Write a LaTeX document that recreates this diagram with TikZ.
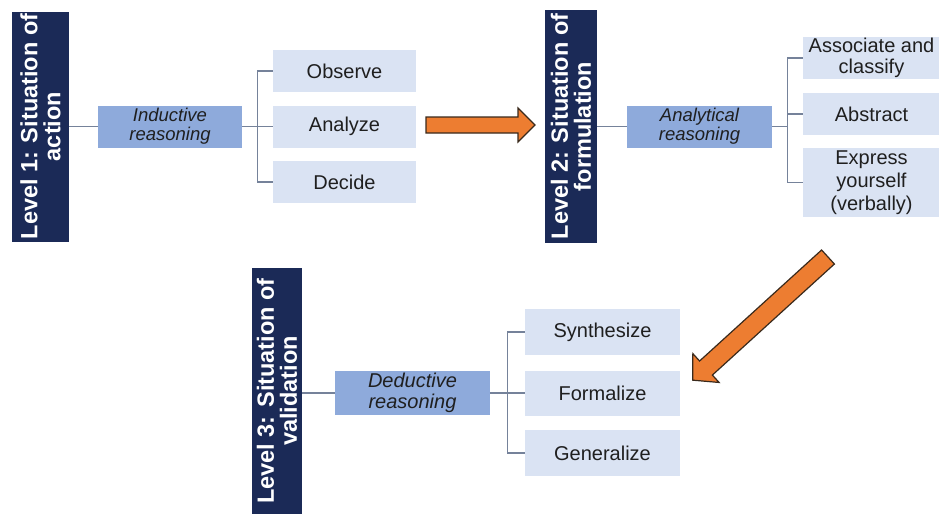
\documentclass[tikz,border=0pt]{standalone}
\usepackage{fontspec}
\setmainfont{Liberation Sans}
\usetikzlibrary{calc}
\definecolor{navy}{HTML}{1B2A57}
\definecolor{midblue}{HTML}{8EAADB}
\definecolor{lightblue}{HTML}{DAE3F3}
\definecolor{linec}{HTML}{75829A}
\definecolor{orangef}{HTML}{ED7D31}
\definecolor{orangel}{HTML}{3A2A1C}
\tikzset{
  levelbar/.style={fill=navy, text=white, rotate=90, inner sep=0pt, align=center,
    font=\fontsize{23.5}{23}\selectfont\bfseries},
  reason/.style={fill=midblue, inner sep=0pt, align=center, text=black!88,
    font=\fontsize{18.5}{19}\selectfont\itshape},
  leaf/.style={fill=lightblue, inner sep=0pt, align=center, text=black!88,
    font=\fontsize{20}{21.5}\selectfont},
  conn/.style={draw=linec, line width=1.2pt},
  blockarrow/.style={fill=orangef, draw=orangel, line width=1.2pt, line join=miter},
}
\begin{document}
\begin{tikzpicture}[x=1pt,y=-1pt]
\fill[white] (0,0) rectangle (939,514);
\useasboundingbox (0,0) rectangle (939,514);

% Level 1
\node[levelbar, minimum width=230pt, minimum height=57pt] (lvl1) at (40.5,126.5) {Level 1: Situation of\\action};
\node[reason, minimum width=144pt, minimum height=42pt] (ind) at (170,126.5) {Inductive\\reasoning};
\node[leaf, minimum width=143pt, minimum height=42pt] (obs) at (344.5,71) {Observe};
\node[leaf, minimum width=143pt, minimum height=42pt] (anz) at (344.5,126.5) {Analyze};
\node[leaf, minimum width=143pt, minimum height=42pt] (dec) at (344.5,182) {Decide};

\draw[conn] (ind.west) -- (ind.west -| lvl1.south);
\draw[conn] (ind.east) -- (anz.west);
\draw[conn] (obs.west) -- ++(-15,0) |- (dec.west);

% Level 2
\node[levelbar, minimum width=233pt, minimum height=52pt] (lvl2) at (571,126.5) {Level 2: Situation of\\formulation};
\node[reason, minimum width=145pt, minimum height=42pt] (ana) at (699.5,126.5) {Analytical\\reasoning};
\node[leaf, minimum width=137pt, minimum height=42pt] (asc) at (871.5,58) {Associate and\\classify};
\node[leaf, minimum width=137pt, minimum height=42pt] (abs) at (871.5,114) {Abstract};
\node[leaf, minimum width=137pt, minimum height=69pt, font=\fontsize{20}{23}\selectfont] (exp) at (871.5,182.5) {Express\\yourself\\(verbally)};

\draw[conn] (ana.west) -- (ana.west -| lvl2.south);
\draw[conn] (ana.east) -- ($(ana.east -| asc.west)+(-15,0)$);
\draw[conn] (asc.west) -- ++(-15,0) |- (exp.west);
\draw[conn] (abs.west) -- ++(-15,0);

% Level 3
\node[levelbar, minimum width=246pt, minimum height=50pt] (lvl3) at (277,391) {Level 3: Situation of\\validation};
\node[reason, minimum width=155pt, minimum height=44pt, font=\fontsize{20}{20.5}\selectfont\itshape] (ded) at (412.5,393) {Deductive\\reasoning};
\node[leaf, minimum width=155pt, minimum height=46pt] (syn) at (602.5,332) {Synthesize};
\node[leaf, minimum width=155pt, minimum height=45pt] (frm) at (602.5,393) {Formalize};
\node[leaf, minimum width=155pt, minimum height=46pt] (gen) at (602.5,453) {Generalize};

\draw[conn] (ded.west) -- (ded.west -| lvl3.south);
\draw[conn] (ded.east) -- (frm.west);
\draw[conn] (syn.west) -- ++(-17,0) |- (gen.west);

% Orange block arrows
\begin{scope}[shift={(426,125)}]
  \draw[blockarrow] (0,-8) -- (92,-8) -- (92,-17) -- (109,0) -- (92,17) -- (92,8) -- (0,8) -- cycle;
\end{scope}
\begin{scope}[shift={(828,257)}, rotate=222.3]
  \draw[blockarrow] (0,-9.5) -- (165,-9.5) -- (165,-19.5) -- (183,0) -- (165,19.5) -- (165,9.5) -- (0,9.5) -- cycle;
\end{scope}
\end{tikzpicture}
\end{document}
